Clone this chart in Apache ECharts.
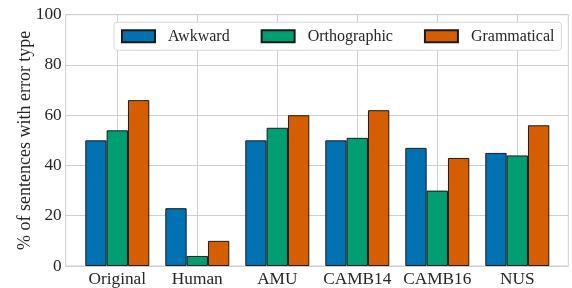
<!DOCTYPE html>
<html><head><meta charset="utf-8">
<script src="https://cdn.jsdelivr.net/npm/echarts@6/dist/echarts.min.js"></script>
<style>html,body{margin:0;padding:0;background:#fff}#c{width:572px;height:288px}</style>
</head><body><div id="c"></div>
<script>
const categories = ['Original', 'Human', 'AMU', 'CAMB14', 'CAMB16', 'NUS'];
const awkward = [50, 23, 50, 50, 47, 45];
const orthographic = [54, 4, 55, 51, 30, 44];
const grammatical = [66, 10, 60, 62, 43, 56];
const yTicks = [0, 20, 40, 60, 80, 100];
const seriesNames = ['Awkward', 'Orthographic', 'Grammatical'];
const colors = ['#0072B2', '#009E73', '#D55E00'];

const FONT = 'Liberation Serif';
const TXT = '#262626';
const GRIDC = '#cfcfcf';
const gTop = 14.7, gBottom = 22, gLeft = 65.7, gRight = 3.7;

const chart = echarts.init(document.getElementById('c'), null, {renderer: 'canvas'});
const values = [awkward, orthographic, grammatical];
chart.setOption({
  animation: false,
  backgroundColor: '#fff',
  textStyle: {fontFamily: FONT},
  grid: [
    {left: gLeft, right: gRight, top: gTop, bottom: gBottom, show: true, borderColor: GRIDC, borderWidth: 1, backgroundColor: 'transparent'},
    {left: 77.3, width: 480, top: gTop, bottom: gBottom},
    {left: 117.3, width: 400, top: gTop, bottom: gBottom}
  ],
  legend: {
    data: seriesNames,
    left: 114, top: 22.3,
    itemWidth: 33, itemHeight: 12, itemGap: 31,
    padding: [6, 7, 6, 7],
    backgroundColor: '#fff', borderColor: '#d6d6d6', borderWidth: 1, borderRadius: 3,
    icon: 'rect',
    textStyle: {fontFamily: FONT, fontSize: 16, color: TXT, padding: [0, 0, 0, 8]}
  },
  xAxis: [
    {gridIndex: 0, type: 'value', show: false, min: 0, max: 1},
    {gridIndex: 1, type: 'category', data: categories, boundaryGap: true,
     axisLine: {show: false}, axisTick: {show: false}, splitLine: {show: false},
     axisLabel: {interval: 0, fontFamily: FONT, fontSize: 17.3, color: TXT, margin: 5}},
    {gridIndex: 2, type: 'category', data: categories, boundaryGap: false,
     axisLine: {show: false}, axisTick: {show: false}, axisLabel: {show: false},
     splitLine: {show: true, interval: 0, lineStyle: {color: GRIDC, width: 1}}}
  ],
  yAxis: [
    {gridIndex: 0, type: 'value', min: 0, max: 100, interval: 20,
     axisLine: {show: false}, axisTick: {show: false},
     axisLabel: {fontFamily: FONT, fontSize: 17.3, color: TXT, margin: 4,
       formatter: v => yTicks.includes(v) ? String(v) : ''},
     splitLine: {show: true, lineStyle: {color: GRIDC, width: 1}},
     name: '% of sentences with error type', nameLocation: 'middle', nameRotate: 90, nameGap: 31,
     nameMoveOverlap: false,
     nameTextStyle: {fontFamily: FONT, fontSize: 18, color: TXT}},
    {gridIndex: 1, type: 'value', min: 0, max: 100, show: false},
    {gridIndex: 2, type: 'value', min: 0, max: 100, show: false}
  ],
  series: seriesNames.map((n, i) => ({
    name: n, type: 'bar', xAxisIndex: 1, yAxisIndex: 1,
    data: values[i], barGap: '0%', barCategoryGap: '20%',
    itemStyle: {color: colors[i], borderColor: '#1a1a1a', borderWidth: 1}
  }))
});
</script></body></html>
